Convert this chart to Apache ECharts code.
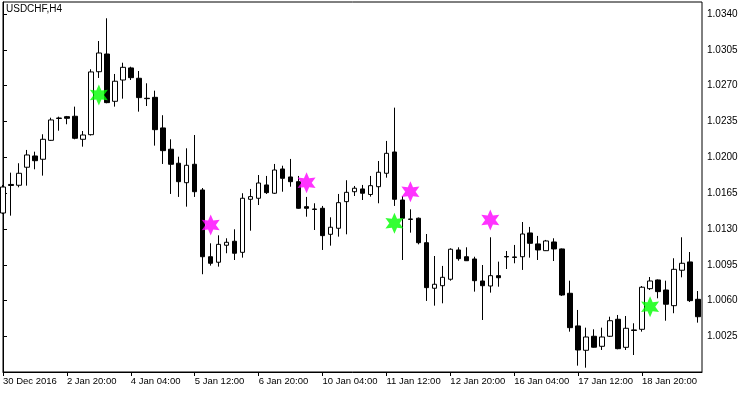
<!DOCTYPE html>
<html>
<head>
<meta charset="utf-8">
<script src="https://cdn.jsdelivr.net/npm/echarts@6/dist/echarts.min.js"></script>
<style>html,body{margin:0;padding:0;background:#fff;}#c{width:750px;height:394px;}</style>
</head>
<body>
<div id="c"></div>
<script>
const title = "USDCHF,H4";
const open = [
1.01456, 1.01735, 1.01727, 1.01903, 1.02013, 1.01981, 1.02166, 1.02379, 1.02397, 1.02401,
1.02176, 1.02221, 1.02836, 1.03009, 1.02547, 1.02755, 1.02873, 1.02772, 1.02577, 1.02586,
1.02287, 1.02079, 1.01942, 1.01752, 1.01932, 1.01681, 1.01029, 1.00975, 1.01141, 1.01180,
1.01072, 1.01590, 1.01600, 1.01730, 1.01649, 1.01886, 1.01808, 1.01762, 1.01518, 1.01495,
1.01502, 1.01248, 1.01307, 1.01567, 1.01664, 1.01691, 1.01637, 1.01713, 1.01844, 1.02052,
1.01583, 1.01393, 1.01405, 1.01166, 1.00721, 1.00746, 1.00809, 1.01095, 1.01029, 1.01007,
1.00792, 1.00743, 1.00844, 1.01031, 1.01027, 1.01029, 1.01261, 1.01154, 1.01088, 1.01173,
1.01105, 1.00672, 1.00353, 1.00115, 1.00252, 1.00154, 1.00252, 1.00418, 1.00144, 1.00314,
1.00320, 1.00717, 1.00802, 1.00704, 1.00551, 1.00897, 1.00978, 1.00613
];
const close = [
1.01710, 1.01725, 1.01844, 1.02023, 1.01967, 1.02176, 1.02365, 1.02384, 1.02381, 1.02186,
1.02218, 1.02834, 1.03019, 1.02534, 1.02743, 1.02879, 1.02778, 1.02583, 1.02573, 1.02270,
1.02065, 1.01932, 1.01762, 1.01922, 1.01664, 1.01029, 1.00965, 1.01150, 1.01170, 1.01063,
1.01600, 1.01616, 1.01749, 1.01655, 1.01876, 1.01795, 1.01762, 1.01502, 1.01502, 1.01491,
1.01235, 1.01317, 1.01557, 1.01658, 1.01698, 1.01649, 1.01723, 1.01854, 1.02039, 1.01590,
1.01405, 1.01398, 1.01166, 1.00727, 1.00760, 1.00828, 1.01102, 1.01010, 1.00990, 1.00795,
1.00746, 1.00844, 1.00824, 1.01027, 1.01022, 1.01251, 1.01160, 1.01095, 1.01183, 1.01105,
1.00655, 1.00336, 1.00118, 1.00245, 1.00145, 1.00245, 1.00404, 1.00131, 1.00330, 1.00309,
1.00731, 1.00792, 1.00688, 1.00565, 1.00906, 1.00965, 1.00600, 1.00443
];
const low = [
1.01447, 1.01430, 1.01707, 1.01723, 1.01883, 1.01821, 1.02160, 1.02260, 1.02323, 1.02176,
1.02104, 1.02213, 1.02775, 1.02528, 1.02495, 1.02573, 1.02755, 1.02446, 1.02501, 1.02114,
1.01935, 1.01642, 1.01613, 1.01518, 1.01613, 1.00858, 1.00942, 1.00932, 1.01063, 1.00997,
1.01020, 1.01283, 1.01534, 1.01642, 1.01642, 1.01664, 1.01713, 1.01498, 1.01420, 1.01290,
1.01095, 1.01137, 1.01225, 1.01248, 1.01622, 1.01583, 1.01616, 1.01551, 1.01801, 1.01525,
1.00997, 1.01264, 1.01150, 1.00597, 1.00551, 1.00574, 1.00795, 1.00990, 1.00987, 1.00688,
1.00411, 1.00678, 1.00736, 1.00909, 1.00965, 1.00900, 1.01020, 1.00997, 1.01085, 1.00987,
1.00646, 1.00297, 0.99965, 0.99945, 1.00141, 1.00118, 1.00245, 1.00125, 1.00118, 1.00069,
1.00297, 1.00704, 1.00623, 1.00404, 1.00477, 1.00828, 1.00587, 1.00385
];
const high = [
1.01730, 1.01850, 1.01942, 1.02072, 1.02055, 1.02225, 1.02387, 1.02397, 1.02404, 1.02495,
1.02257, 1.02860, 1.03136, 1.03358, 1.02814, 1.02924, 1.02885, 1.02843, 1.02723, 1.02651,
1.02411, 1.02176, 1.02006, 1.02088, 1.02218, 1.01700, 1.01160, 1.01238, 1.01209, 1.01297,
1.01649, 1.01691, 1.01827, 1.01818, 1.01935, 1.01918, 1.01984, 1.01818, 1.01613, 1.01551,
1.01525, 1.01414, 1.01642, 1.01776, 1.01720, 1.01730, 1.01818, 1.01964, 1.02160, 1.02485,
1.01622, 1.01492, 1.01412, 1.01251, 1.01036, 1.00939, 1.01111, 1.01121, 1.01121, 1.01029,
1.00948, 1.01219, 1.00981, 1.01085, 1.01144, 1.01368, 1.01320, 1.01232, 1.01193, 1.01209,
1.01109, 1.00795, 1.00509, 1.00336, 1.00320, 1.00336, 1.00443, 1.00460, 1.00450, 1.00379,
1.00743, 1.00831, 1.00807, 1.00795, 1.01014, 1.01219, 1.01075, 1.00694
];
const buyIdx = [12, 49, 81];
const buyVal = [1.02609, 1.01356, 1.00541];
const sellIdx = [26, 38, 51, 61];
const sellVal = [1.01339, 1.01752, 1.01664, 1.01388];
const xTickPos = [0, 8, 16, 24, 32, 40, 48, 56, 64, 72, 80];
const xTickLabels = ["30 Dec 2016", "2 Jan 20:00", "4 Jan 04:00", "5 Jan 12:00", "6 Jan 20:00",
  "10 Jan 04:00", "11 Jan 12:00", "12 Jan 20:00", "16 Jan 04:00", "17 Jan 12:00", "18 Jan 20:00"];
const yTicks = [1.0025, 1.0060, 1.0095, 1.0130, 1.0165, 1.0200, 1.0235, 1.0270, 1.0305, 1.0340];

const candles = open.map((o, i) => [i, o, close[i], low[i], high[i]]);
const buys = buyIdx.map((x, i) => [x, buyVal[i]]);
const sells = sellIdx.map((x, i) => [x, sellVal[i]]);
const star = 'path://M10 0 L12.5 5.67 L18.66 5 L15 10 L18.66 15 L12.5 14.33 L10 20 L7.5 14.33 L1.34 15 L5 10 L1.34 5 L7.5 5.67 Z';
const font = '"Liberation Sans", Arial, sans-serif';

const chart = echarts.init(document.getElementById('c'), null, {renderer: 'canvas'});
chart.setOption({
  animation: false,
  backgroundColor: '#ffffff',
  title: {text: title, left: 6, top: 4, padding: 0,
    textStyle: {fontSize: 10, fontWeight: 'normal', color: '#000', fontFamily: font}},
  grid: {left: 2, right: 48, top: 2, bottom: 22, show: true, borderColor: '#000', borderWidth: 1, backgroundColor: '#fff'},
  xAxis: {
    type: 'value', min: 0, max: 87.5,
    splitLine: {show: false},
    axisLine: {show: true, lineStyle: {color: '#000', width: 1}},
    axisTick: {show: true, length: 4, customValues: xTickPos, lineStyle: {color: '#000'}},
    axisLabel: {customValues: xTickPos, align: 'left', margin: 4, color: '#000', fontSize: 9.5, fontFamily: font,
      formatter: v => xTickLabels[xTickPos.indexOf(v)] || ''}
  },
  yAxis: {
    type: 'value', position: 'right', min: 0.99903, max: 1.03517, scale: true,
    splitLine: {show: false},
    axisLine: {show: true, lineStyle: {color: '#000', width: 1}},
    axisTick: {show: true, length: 4, customValues: yTicks, lineStyle: {color: '#000'}},
    axisLabel: {customValues: yTicks, margin: 5, color: '#000', fontSize: 10, fontFamily: font,
      formatter: v => v.toFixed(4)}
  },
  series: [
    {
      type: 'candlestick', data: candles, encode: {x: 0, y: [1, 2, 3, 4]},
      barWidth: 5,
      itemStyle: {color: '#ffffff', color0: '#000000', borderColor: '#000000', borderColor0: '#000000',
        borderColorDoji: '#000000', borderWidth: 1}
    },
    {type: 'scatter', data: buys, symbol: star, symbolSize: [18, 21], itemStyle: {color: '#00ff00'}, z: 5},
    {type: 'scatter', data: sells, symbol: star, symbolSize: [18, 21], itemStyle: {color: '#ff00ff'}, z: 5}
  ]
});
</script>
</body>
</html>
